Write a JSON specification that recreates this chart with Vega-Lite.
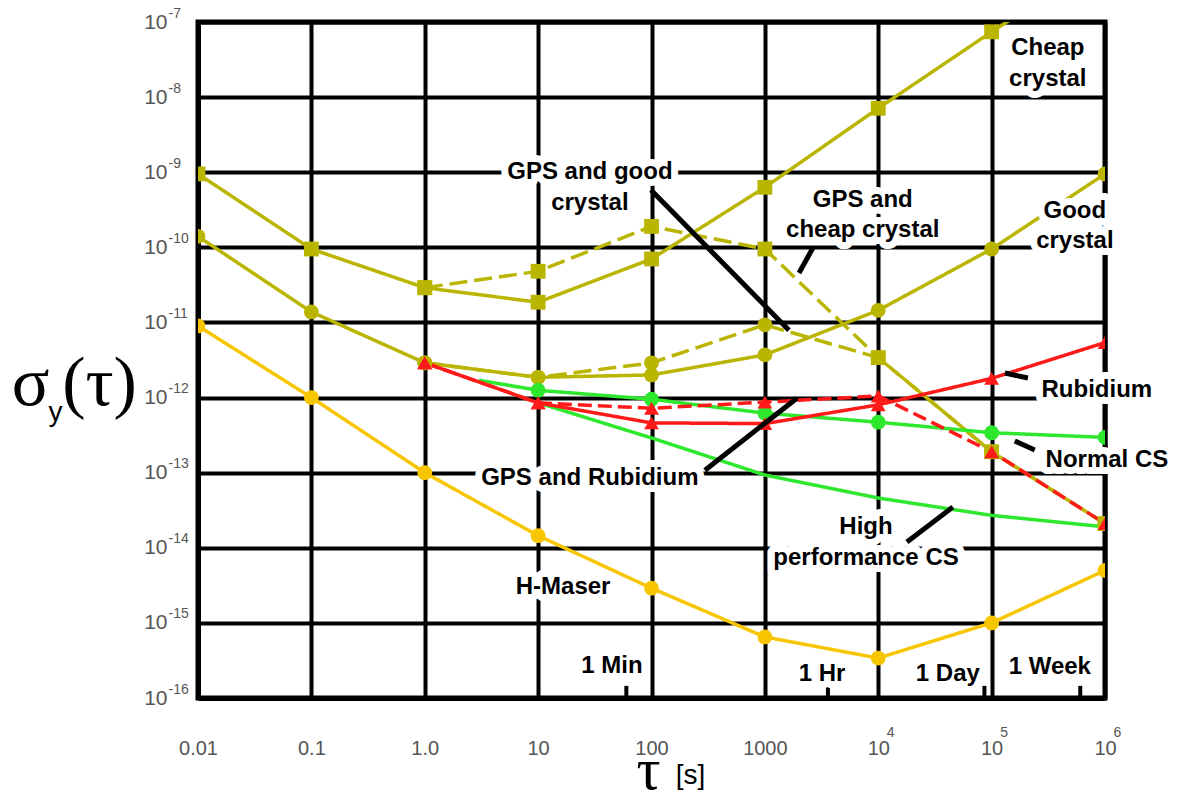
{
  "$schema": "https://vega.github.io/schema/vega-lite/v6.json",
  "width": 907,
  "height": 676,
  "autosize": {"type": "none"},
  "padding": {"left": 198, "top": 22, "right": 79, "bottom": 103},
  "background": "#ffffff",
  "config": {"view": {"stroke": "#000000", "strokeWidth": 5}},
  "datasets": {
    "curves": [
      {"series": "Cheap crystal", "tau": 0.01, "sigma": 9.5e-10},
      {"series": "Cheap crystal", "tau": 0.1, "sigma": 9.5e-11},
      {"series": "Cheap crystal", "tau": 1, "sigma": 2.9e-11},
      {"series": "Cheap crystal", "tau": 10, "sigma": 1.86e-11},
      {"series": "Cheap crystal", "tau": 100, "sigma": 7e-11},
      {"series": "Cheap crystal", "tau": 1000, "sigma": 6.3e-10},
      {"series": "Cheap crystal", "tau": 10000, "sigma": 7.1e-9},
      {"series": "Cheap crystal", "tau": 100000, "sigma": 7.4e-8},
      {"series": "Cheap crystal", "tau": 1000000, "sigma": 7e-7},
      {"series": "GPS and cheap crystal", "tau": 1, "sigma": 2.9e-11},
      {"series": "GPS and cheap crystal", "tau": 10, "sigma": 4.8e-11},
      {"series": "GPS and cheap crystal", "tau": 100, "sigma": 1.9e-10},
      {"series": "GPS and cheap crystal", "tau": 1000, "sigma": 9.5e-11},
      {"series": "GPS and cheap crystal", "tau": 10000, "sigma": 3.4e-12},
      {"series": "GPS and cheap crystal", "tau": 100000, "sigma": 1.9e-13},
      {"series": "GPS and cheap crystal", "tau": 1000000, "sigma": 2.1e-14},
      {"series": "Good crystal", "tau": 0.01, "sigma": 1.4e-10},
      {"series": "Good crystal", "tau": 0.1, "sigma": 1.38e-11},
      {"series": "Good crystal", "tau": 1, "sigma": 2.9e-12},
      {"series": "Good crystal", "tau": 10, "sigma": 1.86e-12},
      {"series": "Good crystal", "tau": 100, "sigma": 2.0e-12},
      {"series": "Good crystal", "tau": 1000, "sigma": 3.7e-12},
      {"series": "Good crystal", "tau": 10000, "sigma": 1.45e-11},
      {"series": "Good crystal", "tau": 100000, "sigma": 9.5e-11},
      {"series": "Good crystal", "tau": 1000000, "sigma": 9.5e-10},
      {"series": "GPS and good crystal", "tau": 1, "sigma": 2.9e-12},
      {"series": "GPS and good crystal", "tau": 10, "sigma": 1.86e-12},
      {"series": "GPS and good crystal", "tau": 100, "sigma": 2.9e-12},
      {"series": "GPS and good crystal", "tau": 1000, "sigma": 9.3e-12},
      {"series": "GPS and good crystal", "tau": 10000, "sigma": 3.4e-12},
      {"series": "GPS and good crystal", "tau": 100000, "sigma": 1.9e-13},
      {"series": "GPS and good crystal", "tau": 1000000, "sigma": 2.1e-14},
      {"series": "Normal CS", "tau": 3, "sigma": 1.7e-12},
      {"series": "Normal CS", "tau": 10, "sigma": 1.25e-12},
      {"series": "Normal CS", "tau": 100, "sigma": 9.5e-13},
      {"series": "Normal CS", "tau": 1000, "sigma": 6.2e-13},
      {"series": "Normal CS", "tau": 10000, "sigma": 4.7e-13},
      {"series": "Normal CS", "tau": 100000, "sigma": 3.4e-13},
      {"series": "Normal CS", "tau": 1000000, "sigma": 2.95e-13},
      {"series": "High performance CS", "tau": 10, "sigma": 8.5e-13},
      {"series": "High performance CS", "tau": 100, "sigma": 2.9e-13},
      {"series": "High performance CS", "tau": 1000, "sigma": 9.3e-14},
      {"series": "High performance CS", "tau": 10000, "sigma": 4.6e-14},
      {"series": "High performance CS", "tau": 100000, "sigma": 2.7e-14},
      {"series": "High performance CS", "tau": 1000000, "sigma": 1.9e-14},
      {"series": "Rubidium", "tau": 1, "sigma": 2.9e-12},
      {"series": "Rubidium", "tau": 10, "sigma": 8.5e-13},
      {"series": "Rubidium", "tau": 100, "sigma": 4.6e-13},
      {"series": "Rubidium", "tau": 1000, "sigma": 4.5e-13},
      {"series": "Rubidium", "tau": 10000, "sigma": 8e-13},
      {"series": "Rubidium", "tau": 100000, "sigma": 1.8e-12},
      {"series": "Rubidium", "tau": 1000000, "sigma": 5.4e-12},
      {"series": "GPS and Rubidium", "tau": 1, "sigma": 2.9e-12},
      {"series": "GPS and Rubidium", "tau": 10, "sigma": 8.5e-13},
      {"series": "GPS and Rubidium", "tau": 100, "sigma": 7.2e-13},
      {"series": "GPS and Rubidium", "tau": 1000, "sigma": 8.7e-13},
      {"series": "GPS and Rubidium", "tau": 10000, "sigma": 1.05e-12},
      {"series": "GPS and Rubidium", "tau": 100000, "sigma": 1.9e-13},
      {"series": "GPS and Rubidium", "tau": 1000000, "sigma": 2.1e-14},
      {"series": "H-Maser", "tau": 0.01, "sigma": 9e-12},
      {"series": "H-Maser", "tau": 0.1, "sigma": 1e-12},
      {"series": "H-Maser", "tau": 1, "sigma": 1e-13},
      {"series": "H-Maser", "tau": 10, "sigma": 1.45e-14},
      {"series": "H-Maser", "tau": 100, "sigma": 2.9e-15},
      {"series": "H-Maser", "tau": 1000, "sigma": 6.5e-16},
      {"series": "H-Maser", "tau": 10000, "sigma": 3.4e-16},
      {"series": "H-Maser", "tau": 100000, "sigma": 1e-15},
      {"series": "H-Maser", "tau": 1000000, "sigma": 5e-15}
    ],
    "labels": [
      {"label": "Cheap", "tau": 313000, "sigma": 4.5e-8},
      {"label": "crystal", "tau": 313000, "sigma": 1.74e-8},
      {"label": "Good", "tau": 542000, "sigma": 3.04e-10},
      {"label": "crystal", "tau": 542000, "sigma": 1.21e-10},
      {"label": "GPS and good", "tau": 28.6, "sigma": 1.0e-9},
      {"label": "crystal", "tau": 28.6, "sigma": 3.9e-10},
      {"label": "GPS and", "tau": 7300, "sigma": 4.27e-10},
      {"label": "cheap crystal", "tau": 7300, "sigma": 1.7e-10},
      {"label": "Rubidium", "tau": 847000, "sigma": 1.26e-12},
      {"label": "Normal CS", "tau": 1040000, "sigma": 1.48e-13},
      {"label": "GPS and Rubidium", "tau": 28.6, "sigma": 8.5e-14},
      {"label": "High", "tau": 7800, "sigma": 1.9e-14},
      {"label": "performance CS", "tau": 7800, "sigma": 7.3e-15},
      {"label": "H-Maser", "tau": 16.6, "sigma": 3.0e-15},
      {"label": "1 Min", "tau": 44.8, "sigma": 2.66e-16},
      {"label": "1 Hr", "tau": 3190, "sigma": 2.1e-16},
      {"label": "1 Day", "tau": 41100, "sigma": 2.1e-16},
      {"label": "1 Week", "tau": 326000, "sigma": 2.57e-16}
    ],
    "leaders": [
      {"tau": 98.9, "sigma": 5.8e-10, "tau2": 1630, "sigma2": 7.9e-12},
      {"tau": 2650, "sigma": 9.8e-11, "tau2": 2000, "sigma2": 4.55e-11},
      {"tau": 131000, "sigma": 2.12e-12, "tau2": 209000, "sigma2": 1.82e-12},
      {"tau": 160000, "sigma": 2.64e-13, "tau2": 240000, "sigma2": 2.0e-13},
      {"tau": 1915, "sigma": 9.8e-13, "tau2": 296, "sigma2": 1.08e-13},
      {"tau": 45500, "sigma": 3.48e-14, "tau2": 17900, "sigma2": 1.19e-14}
    ],
    "spans": [
      {"span": "1 Min", "tau": 60, "sigma": 1e-16, "sigma2": 1.45e-16},
      {"span": "1 Hr", "tau": 3600, "sigma": 1e-16, "sigma2": 1.45e-16},
      {"span": "1 Day", "tau": 86400, "sigma": 1e-16, "sigma2": 1.45e-16},
      {"span": "1 Week", "tau": 604800, "sigma": 1e-16, "sigma2": 1.45e-16}
    ]
  },
  "encoding": {
    "x": {"field": "tau", "type": "quantitative", "scale": {"type": "log", "domain": [0.01, 1000000], "nice": false}, "axis": null},
    "y": {"field": "sigma", "type": "quantitative", "scale": {"type": "log", "domain": [1e-16, 1e-7], "nice": false}, "axis": null}
  },
  "resolve": {"axis": {"x": "independent", "y": "independent"}},
  "layer": [
    {
      "data": {"name": "curves"},
      "mark": {"type": "line", "clip": true, "strokeCap": "butt"},
      "encoding": {
        "x": {
          "field": "tau", "type": "quantitative",
          "scale": {"type": "log", "domain": [0.01, 1000000], "nice": false},
          "axis": {
            "orient": "bottom",
            "values": [0.01, 0.1, 1, 10, 100, 1000, 10000, 100000, 1000000],
            "labelExpr": "datum.value < 0.05 ? '0.01' : datum.value < 0.5 ? '0.1' : datum.value < 5 ? '1.0' : datum.value < 50 ? '10' : datum.value < 500 ? '100' : datum.value < 5000 ? '1000' : '10\u00a0\u00a0'",
            "grid": true, "gridColor": "#000000", "gridWidth": 4, "gridOpacity": 1,
            "domainColor": "#000000", "domainWidth": 5,
            "ticks": false, "tickSize": 0,
            "labelFont": "Liberation Sans Narrow, Liberation Sans", "labelFontSize": 20, "labelColor": "#555555",
            "labelPadding": 40, "labelOverlap": false, "labelFlush": false, "labelBound": false,
            "title": "τ", "titleFont": "Liberation Serif", "titleFontSize": 60, "titleFontWeight": "normal",
            "titleColor": "#000000", "titleX": 450, "titleY": 90, "titleAlign": "center", "titleBaseline": "alphabetic", "titleAnchor": null
          }
        },
        "y": {
          "field": "sigma", "type": "quantitative",
          "scale": {"type": "log", "domain": [1e-16, 1e-7], "nice": false},
          "axis": {
            "orient": "left",
            "values": [1e-16, 1e-15, 1e-14, 1e-13, 1e-12, 1e-11, 1e-10, 1e-9, 1e-8, 1e-7],
            "labelExpr": "'10'",
            "grid": true, "gridColor": "#000000", "gridWidth": 4, "gridOpacity": 1,
            "domainColor": "#000000", "domainWidth": 5,
            "ticks": false, "tickSize": 0,
            "labelFont": "Liberation Sans", "labelFontSize": 21, "labelColor": "#555555",
            "labelPadding": 31, "labelBaseline": "middle", "labelOverlap": false, "labelFlush": false, "labelBound": false,
            "title": "σ", "titleFont": "Liberation Serif", "titleFontSize": 70, "titleFontWeight": "normal",
            "titleColor": "#000000", "titleAngle": 0, "titleX": -168, "titleY": 382, "titleAlign": "center", "titleBaseline": "alphabetic", "titleAnchor": null
          }
        },
        "detail": {"field": "series"},
        "color": {
          "field": "series", "type": "nominal", "legend": null,
          "scale": {
            "domain": ["Cheap crystal", "GPS and cheap crystal", "Good crystal", "GPS and good crystal", "Normal CS", "High performance CS", "Rubidium", "GPS and Rubidium", "H-Maser"],
            "range": ["#bab500", "#bab500", "#bab500", "#bab500", "#2ee82e", "#2ee82e", "#ff1a1a", "#ff1a1a", "#f8c600"]
          }
        },
        "strokeDash": {
          "field": "series", "type": "nominal", "legend": null,
          "scale": {
            "domain": ["Cheap crystal", "GPS and cheap crystal", "Good crystal", "GPS and good crystal", "Normal CS", "High performance CS", "Rubidium", "GPS and Rubidium", "H-Maser"],
            "range": [[1, 0], [18, 7], [1, 0], [18, 7], [1, 0], [1, 0], [1, 0], [14, 6], [1, 0]]
          }
        },
        "strokeWidth": {
          "field": "series", "type": "nominal", "legend": null,
          "scale": {
            "domain": ["Cheap crystal", "GPS and cheap crystal", "Good crystal", "GPS and good crystal", "Normal CS", "High performance CS", "Rubidium", "GPS and Rubidium", "H-Maser"],
            "range": [3.5, 3.5, 3.5, 3.5, 4, 4, 3.5, 3.5, 4.5]
          }
        }
      }
    },
    {
      "data": {"name": "curves"},
      "transform": [{"filter": "datum.series !== 'High performance CS' && !(datum.series === 'Normal CS' && datum.tau < 10)"}],
      "mark": {"type": "point", "filled": true, "opacity": 1, "clip": true},
      "encoding": {
        "color": {
          "field": "series", "type": "nominal", "legend": null,
          "scale": {
            "domain": ["Cheap crystal", "GPS and cheap crystal", "Good crystal", "GPS and good crystal", "Normal CS", "High performance CS", "Rubidium", "GPS and Rubidium", "H-Maser"],
            "range": ["#bab500", "#bab500", "#bab500", "#bab500", "#2ee82e", "#2ee82e", "#ff1a1a", "#ff1a1a", "#f8c600"]
          }
        },
        "shape": {
          "field": "series", "type": "nominal", "legend": null,
          "scale": {
            "domain": ["Cheap crystal", "GPS and cheap crystal", "Good crystal", "GPS and good crystal", "Normal CS", "Rubidium", "GPS and Rubidium", "H-Maser"],
            "range": ["square", "square", "circle", "circle", "circle", "triangle-up", "triangle-up", "circle"]
          }
        },
        "size": {
          "field": "series", "type": "nominal", "legend": null,
          "scale": {
            "domain": ["Cheap crystal", "GPS and cheap crystal", "Good crystal", "GPS and good crystal", "Normal CS", "Rubidium", "GPS and Rubidium", "H-Maser"],
            "range": [220, 220, 170, 170, 70, 120, 120, 55]
          }
        }
      }
    },
    {
      "data": {"name": "leaders"},
      "mark": {"type": "rule", "color": "#000000", "strokeWidth": 5, "strokeCap": "butt"},
      "encoding": {
        "y": {
          "field": "sigma", "type": "quantitative",
          "scale": {"type": "log", "domain": [1e-16, 1e-7], "nice": false},
          "axis": {
            "orient": "left", "labels": false, "grid": false, "domain": false, "ticks": false, "tickSize": 0,
            "title": "(τ)", "titleFont": "Liberation Serif", "titleFontSize": 70, "titleFontWeight": "normal",
            "titleColor": "#000000", "titleAngle": 0, "titleX": -99, "titleY": 382, "titleAlign": "center", "titleBaseline": "alphabetic", "titleAnchor": null
          }
        },
        "x2": {"field": "tau2"},
        "y2": {"field": "sigma2"}
      }
    },
    {
      "data": {"name": "spans"},
      "mark": {"type": "rule", "color": "#000000", "strokeWidth": 4},
      "encoding": {
        "x": {
          "field": "tau", "type": "quantitative",
          "scale": {"type": "log", "domain": [0.01, 1000000], "nice": false},
          "axis": {
            "orient": "bottom",
            "values": [10000, 100000, 1000000],
            "labelExpr": "datum.value < 50000 ? '4' : datum.value < 500000 ? '5' : '6'",
            "grid": false, "domain": false, "ticks": false, "tickSize": 0,
            "labelFont": "Liberation Sans Narrow, Liberation Sans", "labelFontSize": 14, "labelColor": "#555555",
            "labelOffset": 12, "labelPadding": 27, "labelOverlap": false, "labelFlush": false, "labelBound": false,
            "title": "[s]", "titleFont": "Liberation Sans Narrow, Liberation Sans", "titleFontSize": 28, "titleFontWeight": "normal",
            "titleColor": "#000000", "titleX": 492, "titleY": 85, "titleAlign": "center", "titleBaseline": "alphabetic", "titleAnchor": null
          }
        },
        "y": {
          "field": "sigma", "type": "quantitative",
          "scale": {"type": "log", "domain": [1e-16, 1e-7], "nice": false},
          "axis": {
            "orient": "left",
            "values": [1e-16, 1e-15, 1e-14, 1e-13, 1e-12, 1e-11, 1e-10, 1e-9, 1e-8, 1e-7],
            "labelExpr": "'-' + format(-log(datum.value) / LN10, 'd')",
            "grid": false, "domain": false, "ticks": false, "tickSize": 0,
            "labelFont": "Liberation Sans", "labelFontSize": 14, "labelColor": "#555555",
            "labelAlign": "left", "labelBaseline": "middle", "labelPadding": 30, "labelOffset": -9,
            "labelOverlap": false, "labelFlush": false, "labelBound": false,
            "title": "y", "titleFont": "Liberation Sans", "titleFontSize": 28, "titleFontWeight": "normal",
            "titleColor": "#000000", "titleAngle": 0, "titleX": -143, "titleY": 398, "titleAlign": "center", "titleBaseline": "alphabetic", "titleAnchor": null
          }
        },
        "y2": {"field": "sigma2"}
      }
    },
    {
      "data": {"name": "labels"},
      "mark": {"type": "text", "font": "Liberation Sans", "fontWeight": "bold", "fontSize": 24, "align": "center", "baseline": "middle", "color": "#ffffff", "stroke": "#ffffff", "strokeWidth": 14, "strokeJoin": "round", "clip": false},
      "encoding": {"text": {"field": "label"}}
    },
    {
      "data": {"name": "labels"},
      "mark": {"type": "text", "font": "Liberation Sans", "fontWeight": "bold", "fontSize": 24, "align": "center", "baseline": "middle", "color": "#000000", "clip": false},
      "encoding": {"text": {"field": "label"}}
    }
  ]
}
